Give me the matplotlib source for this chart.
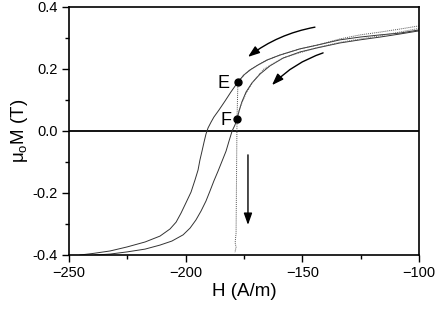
import matplotlib
matplotlib.use("Agg")
import matplotlib.pyplot as plt

plt.rcParams['font.family'] = ['Liberation Sans', 'DejaVu Sans']

# Outer (descending) branch
outer_H = [-100.0, -108.1, -116.7, -125.3, -133.9, -143.7, -151.0, -155.3, -159.6, -165.1,
           -169.0, -172.4, -175.0, -177.6, -180.6, -183.1, -185.7, -187.9, -189.1, -190.4,
           -191.3, -192.1, -193.0, -193.9, -194.7, -196.0, -197.7, -199.9, -202.0, -204.1,
           -206.7, -211.0, -217.4, -225.1, -232.4, -239.7, -245.3]
outer_M = [0.326, 0.316, 0.310, 0.303, 0.294, 0.277, 0.265, 0.255, 0.245, 0.229,
           0.213, 0.197, 0.181, 0.158, 0.126, 0.097, 0.068, 0.045, 0.029, 0.010,
           -0.010, -0.035, -0.065, -0.094, -0.126, -0.158, -0.197, -0.232, -0.265, -0.294,
           -0.316, -0.339, -0.358, -0.374, -0.387, -0.395, -0.400]

# Inner branch
inner_H = [-100.0, -108.1, -116.7, -125.3, -133.9, -143.7, -151.0, -158.3, -163.9, -168.1,
           -171.6, -174.1, -175.9, -177.1, -178.0, -178.9, -180.1, -181.4, -182.7, -184.4,
           -186.1, -187.9, -189.6, -191.3, -193.4, -195.6, -198.1, -201.1, -205.9, -211.0,
           -217.4, -225.1, -232.4, -238.9]
inner_M = [0.323, 0.313, 0.303, 0.294, 0.284, 0.268, 0.255, 0.235, 0.210, 0.184,
           0.155, 0.126, 0.094, 0.065, 0.039, 0.019, 0.0, -0.032, -0.065, -0.097,
           -0.129, -0.161, -0.194, -0.226, -0.258, -0.287, -0.313, -0.335, -0.355, -0.368,
           -0.381, -0.390, -0.397, -0.400]

# Dotted trace 1: down to E, relaxation to F, then drop
dot1_H = [-100.0, -108.1, -116.7, -125.3, -133.9, -143.7, -151.0, -155.3, -159.6, -165.1,
          -169.0, -172.4, -175.0, -177.6, -178.0, -178.4, -178.8, -178.4, -178.9]
dot1_M = [0.339, 0.329, 0.319, 0.310, 0.297, 0.277, 0.265, 0.255, 0.245, 0.229,
          0.213, 0.197, 0.181, 0.158, 0.039, -0.330, -0.360, -0.375, -0.392]

# Dotted trace 2: along inner branch down to F
dot2_H = [-100.0, -116.7, -133.9, -143.7, -158.3, -166.5, -171.0, -174.2, -176.5, -178.0]
dot2_M = [0.331, 0.307, 0.286, 0.269, 0.236, 0.200, 0.160, 0.120, 0.080, 0.039]

points_H = [-177.6, -178.0]
points_M = [0.158, 0.039]
point_labels = ['E', 'F']
label_H = [-184.0, -182.7]
label_M = [0.153, 0.035]

fig = plt.figure(figsize=(4.36, 3.09), dpi=100)
ax = fig.add_axes([69/436, 1-255/309, 350/436, 248/309])

ax.axhline(0, color='black', lw=1.3)
ax.plot(outer_H, outer_M, color='#333333', lw=0.7)
ax.plot(inner_H, inner_M, color='#333333', lw=0.7)
ax.plot(dot1_H, dot1_M, color='#555555', lw=0.7, ls=(0, (1, 1)))
ax.plot(dot2_H, dot2_M, color='#666666', lw=0.7, ls=(0, (1, 1)))
ax.plot(points_H, points_M, 'o', color='black', ms=5)
for lab, h, m in zip(point_labels, label_H, label_M):
    ax.text(h, m, lab, fontsize=13, ha='center', va='center')

akw = dict(arrowstyle='-|>,head_length=0.7,head_width=0.25', color='black', lw=1.0,
           mutation_scale=10, shrinkA=0, shrinkB=0)
ax.annotate('', xy=(-173.3, 0.239), xytext=(-144.6, 0.335),
            arrowprops=dict(connectionstyle='arc3,rad=0.12', **akw))
ax.annotate('', xy=(-163.0, 0.148), xytext=(-141.1, 0.252),
            arrowprops=dict(connectionstyle='arc3,rad=0.12', **akw))
ax.annotate('', xy=(-173.3, -0.303), xytext=(-173.3, -0.077),
            arrowprops=dict(connectionstyle='arc3,rad=0', **akw))

ax.set_xlim(-250, -100)
ax.set_ylim(-0.4, 0.4)
ax.set_xticks([-250, -200, -150, -100])
ax.set_xticks([-225, -175, -125], minor=True)
ax.set_yticks([-0.4, -0.2, 0.0, 0.2, 0.4])
ax.set_yticks([-0.3, -0.1, 0.1, 0.3], minor=True)
ax.set_yticklabels(['-0.4', '-0.2', '0.0', '0.2', '0.4'])
ax.tick_params(which='major', direction='out', length=5, width=1, labelsize=10.5, pad=3)
ax.tick_params(which='minor', direction='out', length=3, width=1)
for s in ax.spines.values():
    s.set_linewidth(1.2)

ax.set_xlabel('H (A/m)', fontsize=13.5, labelpad=2)
ax.set_ylabel(r'μ$_\mathregular{o}$M (T)', fontsize=13.5, labelpad=2)

fig.savefig('out.png', dpi=100)
